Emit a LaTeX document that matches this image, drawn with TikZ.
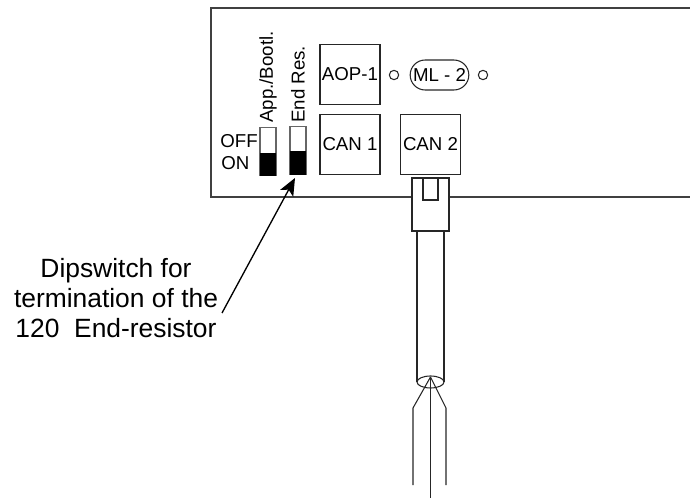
\documentclass[tikz,border=0pt]{standalone}
\usepackage{fontspec}
\setmainfont{Liberation Sans}
\usetikzlibrary{arrows.meta,shapes.misc}
\tikzset{
  px/.style={x=0.75pt,y=-0.75pt},
  ln/.style={draw=black!85,line width=0.8pt},
  lbl/.style={inner sep=0pt,font=\fontsize{14pt}{14pt}\selectfont},
  big/.style={inner sep=0pt,font=\fontsize{19.8pt}{22.5pt}\selectfont,align=center},
  port/.style={ln,fill=white,minimum width=45pt,minimum height=44.5pt,inner sep=0pt,font=\fontsize{14pt}{14pt}\selectfont},
  led/.style={circle,ln,minimum size=7pt,inner sep=0pt},
}
\begin{document}
\begin{tikzpicture}[px]
\useasboundingbox (0,0) rectangle (690,499);
% housing
\draw[draw=black!75,line width=1pt] (690,8) -- (211,8) -- (211,197) -- (412,197) (449,197) -- (690,197);
% ports
\node[port] (aop) at (350,74.5) {AOP-1};
\node[port] (can1) at (350,144.5) {CAN 1};
\node[port] (can2) at (430.5,144.5) {CAN 2};
\node[led] (led1) at (394,75) {};
\node[led] (led2) at (483,75) {};
\node[ln,rounded rectangle,minimum width=44pt,minimum height=22.5pt,inner sep=0pt,lbl] (ml) at (439.5,75) {ML - 2};
% dip switches
\node[ln,draw=black!60,minimum width=12pt,minimum height=36pt,inner sep=0pt,anchor=south] (sw1) at (268,176) {};
\node[ln,draw=black!60,minimum width=12pt,minimum height=36pt,inner sep=0pt,anchor=south] (sw2) at (298,175) {};
\fill[black] (260,153) rectangle (276,176);
\fill[black] (290,151) rectangle (306,175);
\node[lbl,anchor=west,rotate=90] (t1) at (268,123) {App./Bootl.};
\node[lbl,anchor=west,rotate=90] (t2) at (298,123) {End Res.};
\node[lbl,anchor=east] (off) at (258,141) {OFF};
\node[lbl,anchor=west] (on) at (221,163) {ON};
% plug and cable
\draw[ln] (412,178) rectangle (449,231);
\draw[ln] (423,178) rectangle (438,200);
\draw[ln] (417,231) -- (417,382);
\draw[ln] (444,231) -- (444,382);
\draw[ln] (430.5,382) ellipse (13.5 and 6);
\coordinate (apex) at (430.5,377);
\coordinate (wl) at (413,408);
\coordinate (wr) at (446,408);
\draw[ln] (apex) -- (wl) -- (413,485);
\draw[ln] (apex) -- (wr) -- (446,485);
\draw[ln] (apex) -- (430.5,498);
% label
\node[big] (lab) at (116,298) {Dipswitch for\\termination of the\\120\ \ End-resistor};
\coordinate (tip) at (295,178);
\coordinate (tail) at (222,313);
\draw[line width=1pt,-{Stealth[length=13pt,width=11pt,inset=3pt]}] (tail) -- (tip);
\end{tikzpicture}
\end{document}
